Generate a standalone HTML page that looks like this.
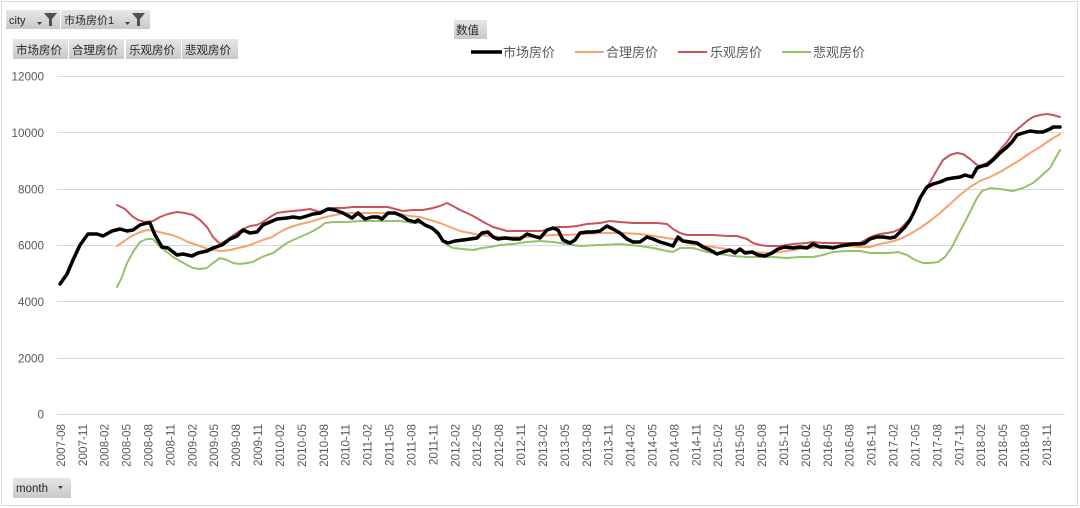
<!DOCTYPE html>
<html><head><meta charset="utf-8"><style>
html,body{margin:0;padding:0;background:#fff;}
svg{display:block;}
text{font-family:"Liberation Sans","Noto Sans CJK SC",sans-serif;}
</style></head><body>
<svg width="1080" height="508" viewBox="0 0 1080 508" xmlns="http://www.w3.org/2000/svg">
<defs>
<linearGradient id="btn" x1="0" y1="0" x2="0" y2="1">
<stop offset="0" stop-color="#e6e6e6"/><stop offset="1" stop-color="#c9c9c9"/>
</linearGradient>
</defs>
<rect x="0" y="0" width="1080" height="508" fill="#fff"/>
<rect x="1.5" y="1.5" width="1076" height="504" fill="none" stroke="#d9d9d9" stroke-width="1"/>

<!-- top filter buttons -->
<rect x="6" y="10" width="54" height="19" fill="url(#btn)"/>
<text x="9" y="24" font-size="11" fill="#262626">city</text>
<path d="M37,22 L42,22 L39.5,25 Z" fill="#404040"/>
<path d="M44,13 L57,13 L52,19 L52,26 L49,26 L49,19 Z" fill="#505050"/>
<rect x="61" y="10" width="89" height="19" fill="url(#btn)"/>
<text x="64" y="24" font-size="11" fill="#262626">市场房价1</text>
<path d="M125,22 L130,22 L127.5,25 Z" fill="#404040"/>
<path d="M132,13 L145,13 L140,19 L140,26 L137,26 L137,19 Z" fill="#505050"/>

<!-- series buttons -->
<rect x="13" y="39" width="55" height="20" fill="url(#btn)"/>
<text x="16" y="54" font-size="11.5" fill="#262626">市场房价</text>
<rect x="69" y="39" width="55" height="20" fill="url(#btn)"/>
<text x="72" y="54" font-size="11.5" fill="#262626">合理房价</text>
<rect x="126" y="39" width="55" height="20" fill="url(#btn)"/>
<text x="129" y="54" font-size="11.5" fill="#262626">乐观房价</text>
<rect x="182" y="39" width="56" height="20" fill="url(#btn)"/>
<text x="185" y="54" font-size="11.5" fill="#262626">悲观房价</text>

<!-- 数值 button -->
<rect x="454" y="20" width="33" height="19" fill="url(#btn)"/>
<text x="456" y="34" font-size="11.5" fill="#262626">数值</text>

<!-- legend -->
<line x1="471" y1="52" x2="502" y2="52" stroke="#000" stroke-width="3.5"/>
<text x="503" y="57" font-size="13" fill="#595959">市场房价</text>
<line x1="575" y1="52" x2="604" y2="52" stroke="#f4a46c" stroke-width="2"/>
<text x="606" y="57" font-size="13" fill="#595959">合理房价</text>
<line x1="678" y1="52" x2="707" y2="52" stroke="#c9545a" stroke-width="2"/>
<text x="710" y="57" font-size="13" fill="#595959">乐观房价</text>
<line x1="782" y1="52" x2="811" y2="52" stroke="#98c16c" stroke-width="2"/>
<text x="813" y="57" font-size="13" fill="#595959">悲观房价</text>

<!-- gridlines -->
<g stroke="#d9d9d9" stroke-width="1">
<line x1="57" y1="76.5" x2="1065" y2="76.5"/>
<line x1="57" y1="132.5" x2="1065" y2="132.5"/>
<line x1="57" y1="189.5" x2="1065" y2="189.5"/>
<line x1="57" y1="245.5" x2="1065" y2="245.5"/>
<line x1="57" y1="301.5" x2="1065" y2="301.5"/>
<line x1="57" y1="358.5" x2="1065" y2="358.5"/>
<line x1="57" y1="414.5" x2="1065" y2="414.5"/>
</g>

<!-- y labels -->
<g font-size="11.7" fill="#595959" text-anchor="end">
<text x="44" y="80.5">12000</text>
<text x="44" y="137">10000</text>
<text x="44" y="193.5">8000</text>
<text x="44" y="249.5">6000</text>
<text x="44" y="306">4000</text>
<text x="44" y="362.5">2000</text>
<text x="44" y="418.5">0</text>
</g>

<!-- x labels -->
<g font-size="11.7" fill="#595959" text-anchor="end">
<text transform="translate(64.9,424) rotate(-90)">2007-08</text>
<text transform="translate(86.8,424) rotate(-90)">2007-11</text>
<text transform="translate(108.7,424) rotate(-90)">2008-02</text>
<text transform="translate(130.6,424) rotate(-90)">2008-05</text>
<text transform="translate(152.5,424) rotate(-90)">2008-08</text>
<text transform="translate(174.4,424) rotate(-90)">2008-11</text>
<text transform="translate(196.3,424) rotate(-90)">2009-02</text>
<text transform="translate(218.2,424) rotate(-90)">2009-05</text>
<text transform="translate(240.2,424) rotate(-90)">2009-08</text>
<text transform="translate(262.1,424) rotate(-90)">2009-11</text>
<text transform="translate(284.0,424) rotate(-90)">2010-02</text>
<text transform="translate(305.9,424) rotate(-90)">2010-05</text>
<text transform="translate(327.8,424) rotate(-90)">2010-08</text>
<text transform="translate(349.7,424) rotate(-90)">2010-11</text>
<text transform="translate(371.6,424) rotate(-90)">2011-02</text>
<text transform="translate(393.5,424) rotate(-90)">2011-05</text>
<text transform="translate(415.5,424) rotate(-90)">2011-08</text>
<text transform="translate(437.4,424) rotate(-90)">2011-11</text>
<text transform="translate(459.3,424) rotate(-90)">2012-02</text>
<text transform="translate(481.2,424) rotate(-90)">2012-05</text>
<text transform="translate(503.1,424) rotate(-90)">2012-08</text>
<text transform="translate(525.0,424) rotate(-90)">2012-11</text>
<text transform="translate(546.9,424) rotate(-90)">2013-02</text>
<text transform="translate(568.9,424) rotate(-90)">2013-05</text>
<text transform="translate(590.8,424) rotate(-90)">2013-08</text>
<text transform="translate(612.7,424) rotate(-90)">2013-11</text>
<text transform="translate(634.6,424) rotate(-90)">2014-02</text>
<text transform="translate(656.5,424) rotate(-90)">2014-05</text>
<text transform="translate(678.4,424) rotate(-90)">2014-08</text>
<text transform="translate(700.3,424) rotate(-90)">2014-11</text>
<text transform="translate(722.2,424) rotate(-90)">2015-02</text>
<text transform="translate(744.2,424) rotate(-90)">2015-05</text>
<text transform="translate(766.1,424) rotate(-90)">2015-08</text>
<text transform="translate(788.0,424) rotate(-90)">2015-11</text>
<text transform="translate(809.9,424) rotate(-90)">2016-02</text>
<text transform="translate(831.8,424) rotate(-90)">2016-05</text>
<text transform="translate(853.7,424) rotate(-90)">2016-08</text>
<text transform="translate(875.6,424) rotate(-90)">2016-11</text>
<text transform="translate(897.6,424) rotate(-90)">2017-02</text>
<text transform="translate(919.5,424) rotate(-90)">2017-05</text>
<text transform="translate(941.4,424) rotate(-90)">2017-08</text>
<text transform="translate(963.3,424) rotate(-90)">2017-11</text>
<text transform="translate(985.2,424) rotate(-90)">2018-02</text>
<text transform="translate(1007.1,424) rotate(-90)">2018-05</text>
<text transform="translate(1029.0,424) rotate(-90)">2018-08</text>
<text transform="translate(1050.9,424) rotate(-90)">2018-11</text>
</g>

<!-- series -->
<g fill="none" stroke-linejoin="round" stroke-linecap="round">
<!-- green 悲观 -->
<polyline stroke="#98c16c" stroke-width="2" points="117,287 122,277 127,263 133,252 140,242 147,239 153,239 160,247 167,252 173,257 180,261 187,265 193,268 200,269 207,268 213,263 220,258 227,260 233,263 240,264 247,263 253,262 260,258 267,255 273,253 280,248 287,243 293,240 300,237 307,234 313,231 320,227 325,223 333,222 347,222 360,221 373,221 387,221 400,221 407,222 413,223 420,223 427,226 433,230 440,237 447,245 453,248 463,249 473,250 482,248 490,247 500,245 513,244 527,242 540,241 553,242 567,244 580,246 600,245 620,244 640,246 653,248 667,251 673,252 680,248 693,248 707,252 720,254 733,256 747,257 760,257 773,257 787,258 800,257 813,257 823,255 833,252 847,251 860,251 870,253 880,253 890,253 898,252 907,255 915,260 923,263 930,263 938,262 945,257 952,247 958,235 965,222 972,208 977,198 982,191 990,188 1000,189 1013,191 1023,188 1033,183 1040,177 1050,168 1060,150"/>
<!-- orange 合理 -->
<polyline stroke="#f4a46c" stroke-width="2" points="117,246 123,242 130,237 138,233 147,230 155,231 163,233 172,235 180,238 188,242 197,245 205,248 213,250 222,251 230,250 238,248 247,246 255,243 263,240 272,237 280,232 288,228 297,225 305,223 313,221 322,218 330,216 340,214 350,213 363,213 377,213 390,213 400,214 410,216 420,217 430,220 440,223 450,227 460,231 470,233 480,235 490,236 500,237 513,237 527,237 540,236 553,235 567,235 580,234 600,233 620,233 640,234 660,237 673,239 687,243 700,245 713,247 727,249 740,251 753,252 767,253 780,252 793,250 807,248 820,247 833,246 847,246 860,247 870,247 880,244 890,242 900,239 910,234 920,228 930,221 940,213 950,204 960,195 970,187 980,181 990,177 1000,172 1010,166 1020,160 1030,153 1040,147 1050,140 1060,134"/>
<!-- red 乐观 -->
<polyline stroke="#c9545a" stroke-width="2" points="117,205 125,209 132,216 138,220 145,222 153,221 160,217 168,214 177,212 185,213 193,215 200,220 207,227 213,237 220,244 227,240 235,234 243,229 250,226 257,225 263,222 270,217 277,213 283,212 293,211 303,210 310,209 320,212 330,208 343,208 353,207 367,207 380,207 388,207 395,209 403,211 413,210 423,210 433,208 440,206 447,203 453,206 460,210 467,213 473,216 480,220 487,224 493,227 500,229 507,231 513,231 527,231 540,231 547,230 557,227 567,227 577,226 587,224 600,223 610,221 620,222 633,223 647,223 657,223 667,224 673,229 680,233 687,235 700,235 713,235 727,236 737,236 747,239 753,243 760,245 767,246 780,246 793,244 807,243 813,242 823,243 833,243 847,243 860,243 867,239 873,236 880,234 887,233 893,232 900,229 907,222 913,215 918,205 923,193 930,182 937,170 943,160 950,155 957,153 963,154 970,159 977,165 980,166 987,163 993,158 1000,150 1007,142 1013,133 1020,127 1027,121 1033,117 1040,115 1047,114 1053,115 1060,117"/>
<!-- black 市场 -->
<polyline stroke="#000" stroke-width="3.5" points="60,284 67,274 73,260 80,245 88,234 97,234 103,236 112,231 120,229 127,231 133,230 140,225 147,223 150,223 155,235 162,247 168,248 177,255 183,254 192,256 198,253 207,251 213,248 222,245 230,239 237,236 243,230 250,233 257,232 263,225 270,222 277,219 287,218 293,217 300,218 307,216 313,214 320,213 328,209 335,210 343,213 352,218 358,213 365,219 372,217 378,217 382,219 388,213 395,213 402,216 408,220 415,222 418,220 425,225 432,228 438,233 443,241 448,243 455,241 463,240 470,239 477,238 482,233 488,232 493,237 498,239 505,238 513,239 520,239 527,234 533,236 540,238 547,230 553,228 558,230 563,240 570,243 575,240 580,233 587,232 593,232 600,231 607,226 613,229 620,233 627,239 633,242 640,242 647,237 653,239 660,242 667,244 673,246 678,237 683,241 690,242 697,243 703,247 710,250 717,254 723,252 730,250 735,253 740,249 745,253 752,252 758,255 765,256 772,253 778,249 785,247 793,248 800,247 807,248 813,244 820,247 827,247 833,248 840,246 847,245 853,244 860,244 865,243 870,239 877,237 883,237 890,238 895,237 900,232 905,227 910,220 915,210 920,198 925,190 927,187 933,184 940,182 947,179 953,178 960,177 965,175 972,177 977,168 982,166 987,165 993,160 1000,153 1007,147 1012,142 1017,135 1023,133 1030,131 1037,132 1043,132 1050,129 1053,127 1060,127"/>
</g>

<!-- month button -->
<rect x="13" y="478" width="58" height="20" fill="url(#btn)"/>
<text x="16" y="492" font-size="11.5" fill="#262626">month</text>
<path d="M58,486 L63,486 L60.5,489 Z" fill="#404040"/>
</svg>
</body></html>
